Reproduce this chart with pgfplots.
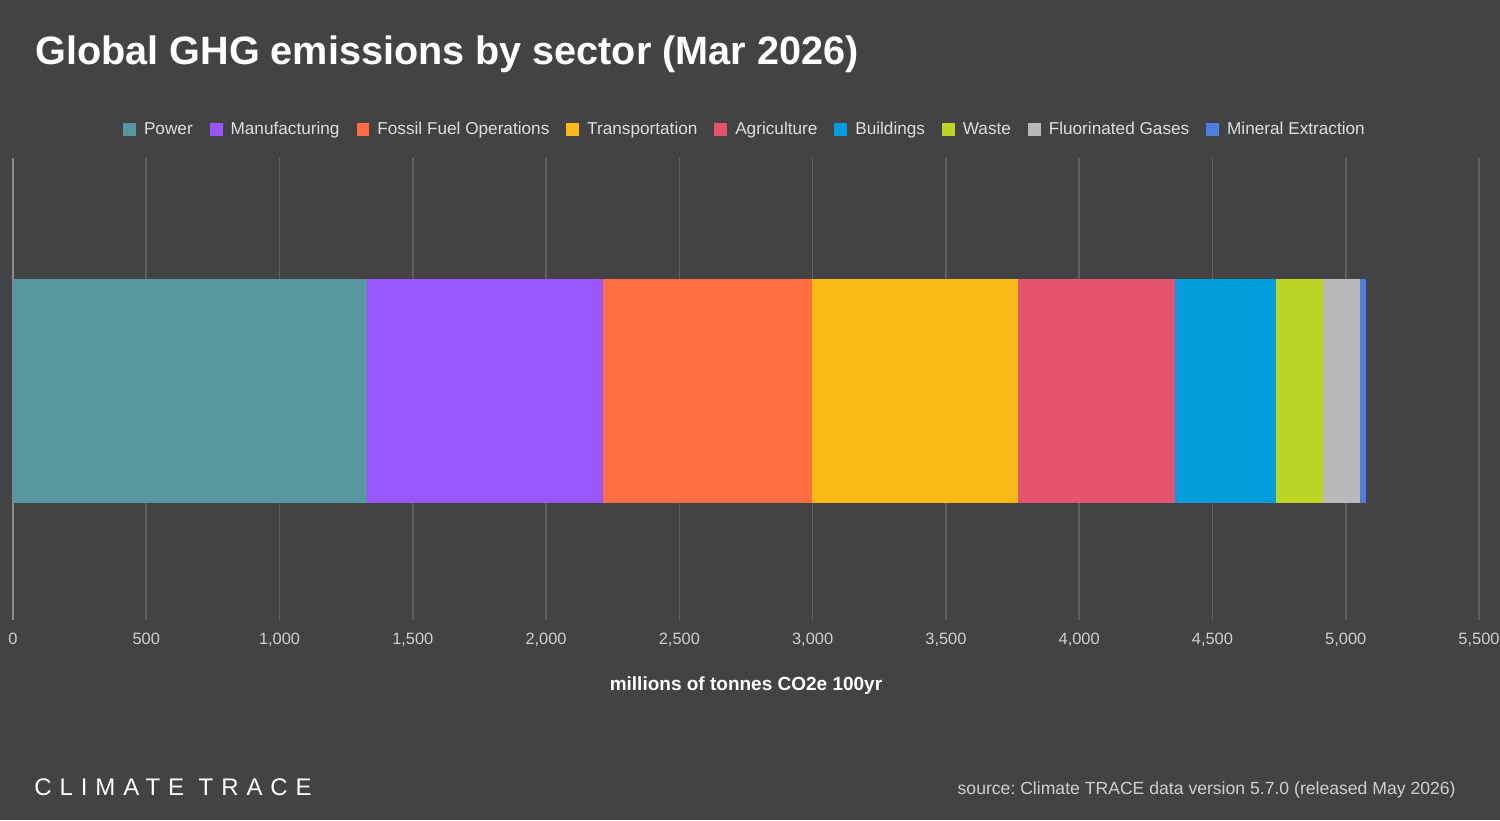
\documentclass[border=0pt]{standalone}
\usepackage{fontspec}
\setmainfont{Liberation Sans}
\newfontfamily\logofont[LetterSpace=33]{Liberation Sans}
\usepackage{pgfplots}
\pgfplotsset{compat=1.18}

\definecolor{bg}{HTML}{434345}
\definecolor{gridc}{HTML}{5E5E60}
\definecolor{axisc}{HTML}{8A8A8C}
\definecolor{ticktext}{HTML}{CFCFCF}
\definecolor{legtext}{HTML}{DEDEDE}
\definecolor{cPower}{HTML}{5797A0}
\definecolor{cManu}{HTML}{9955FE}
\definecolor{cFossil}{HTML}{FF6E40}
\definecolor{cTrans}{HTML}{FBB918}
\definecolor{cAgri}{HTML}{E5536E}
\definecolor{cBuild}{HTML}{049EDF}
\definecolor{cWaste}{HTML}{BDD424}
\definecolor{cFluor}{HTML}{BAB8BA}
\definecolor{cMineral}{HTML}{4C7FE0}

\begin{document}
\frenchspacing
\begin{tikzpicture}
% canvas
\fill[bg] (0,0) rectangle (750pt,410pt);
\useasboundingbox (0,0) rectangle (750pt,410pt);

% title
\node[anchor=base west, text=white, font=\fontsize{19.8}{22}\selectfont\bfseries, inner sep=0pt]
  at (17.5pt,377.5pt) {Global GHG emissions by sector (Mar 2026)};

\begin{axis}[
  at={(6.5pt,100pt)}, anchor=south west,
  scale only axis, width=733pt, height=231pt,
  xmin=0, xmax=5500, ymin=-0.991, ymax=1.009,
  xbar stacked, bar width=112pt,
  ytick=\empty,
  xtick={500,1000,...,5500},
  extra x ticks={0},
  extra x tick style={grid style={color=axisc, line width=0.8pt}},
  xmajorgrids, grid style={color=gridc, line width=0.8pt},
  major tick length=0pt,
  axis line style={draw=none},
  /pgf/number format/assume math mode=true,
  /pgf/number format/1000 sep={,},
  scaled x ticks=false,
  xticklabel style={text=ticktext, font=\fontsize{8.2}{10}\selectfont, yshift=-3pt},
  xlabel={millions of tonnes CO2e 100yr},
  xlabel style={text=white, font=\fontsize{9.5}{11}\selectfont\bfseries, yshift=-8pt},
  legend columns=-1,
  legend style={at={(0.5,1.061)}, anchor=center, draw=none, fill=none,
    text=legtext, font=\fontsize{8.6}{10}\selectfont,
    /tikz/every even column/.append style={column sep=6.5pt},
    nodes={inner sep=2pt}},
  legend image code/.code={\fill[#1] (0pt,-3.2pt) rectangle (6.4pt,3.2pt); \path (8.4pt,0pt);},
]
\addplot[fill=cPower, draw=none] coordinates {(1329,0)};
\addplot[fill=cManu, draw=none] coordinates {(885,0)};
\addplot[fill=cFossil, draw=none] coordinates {(783,0)};
\addplot[fill=cTrans, draw=none] coordinates {(773,0)};
\addplot[fill=cAgri, draw=none] coordinates {(589,0)};
\addplot[fill=cBuild, draw=none] coordinates {(381,0)};
\addplot[fill=cWaste, draw=none] coordinates {(175,0)};
\addplot[fill=cFluor, draw=none] coordinates {(138,0)};
\addplot[fill=cMineral, draw=none] coordinates {(22,0)};
\legend{Power, Manufacturing, Fossil Fuel Operations, Transportation, Agriculture, Buildings, Waste, Fluorinated Gases, Mineral Extraction}
\end{axis}

% footer
\node[anchor=base west, text=white, font=\logofont\fontsize{12}{14}\selectfont, inner sep=0pt]
  at (17pt,12.5pt) {CLIMATE TRACE};
\node[anchor=base east, text=ticktext, font=\fontsize{8.8}{10}\selectfont, inner sep=0pt]
  at (728pt,13pt) {source: Climate TRACE data version 5.7.0 (released May 2026)};
\end{tikzpicture}
\end{document}
